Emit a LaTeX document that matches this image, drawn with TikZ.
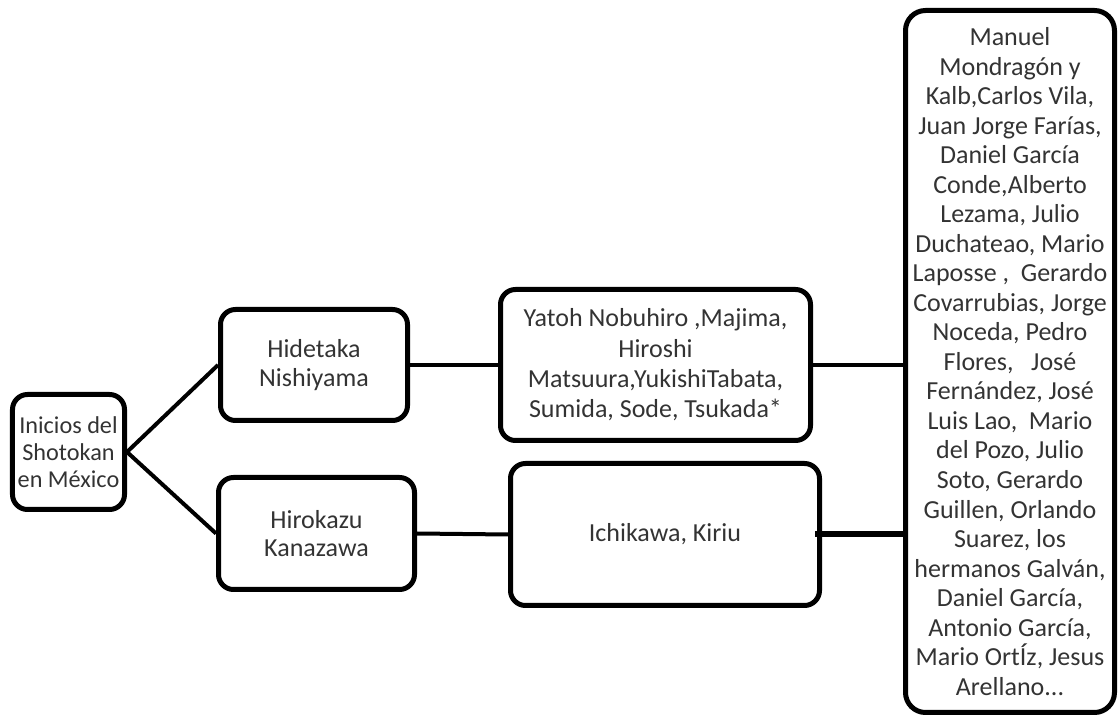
\documentclass[tikz,border=0pt]{standalone}
\usepackage{fontspec}
\setmainfont{Carlito}
\usepackage{tikz}

\begin{document}
\begin{tikzpicture}[
    box/.style={draw, line width=0.1cm, rounded corners=0.3cm, align=center,
      text=black!80, font=\fontsize{14.8}{16.1}\selectfont, inner sep=2pt},
    link/.style={line width=0.08cm}]
  \useasboundingbox (0,0) rectangle (22.36,14.34);
  % left column
  \node[box, minimum width=2.24cm, minimum height=2.30cm,
    font=\fontsize{13.8}{15.3}\selectfont] (root) at (1.37,5.30)
    {Inicios del\\ Shotokan\\ en México};
  \node[box, minimum width=3.74cm, minimum height=2.22cm] (hid) at (6.28,7.04)
    {Hidetaka\\ Nishiyama};
  \node[box, minimum width=3.92cm, minimum height=2.24cm] (hiro) at (6.33,3.67)
    {Hirokazu\\ Kanazawa};
  % middle column
  \node[box, minimum width=6.20cm, minimum height=3.02cm,
    font=\fontsize{14.8}{17.3}\selectfont] (yat) at (13.11,7.04)
    {Yatoh Nobuhiro ,Majima,\\ Hiroshi\\ Matsuura,YukishiTabata,\\ Sumida, Sode, Tsukada*};
  \node[box, minimum width=6.18cm, minimum height=2.84cm] (ich) at (13.30,3.65)
    {Ichikawa, Kiriu};
  % right column
  \node[box, rounded corners=0.4cm, minimum width=4.18cm, minimum height=14.04cm,
    font=\fontsize{14.8}{16.8}\selectfont] (big) at (20.20,7.11)
    {Manuel\\ Mondragón y\\ Kalb,Carlos Vila,\\ Juan Jorge Farías,\\ Daniel García\\
     Conde,Alberto\\ Lezama, Julio\\ Duchateao, Mario\\ Laposse ,~~Gerardo\\
     Covarrubias, Jorge\\ Noceda, Pedro\\ Flores,~~~José\\ Fernández, José\\
     Luis Lao,~~Mario\\ del Pozo, Julio\\ Soto, Gerardo\\ Guillen, Orlando\\
     Suarez, los\\ hermanos Galván,\\ Daniel García,\\ Antonio García,\\
     Mario OrtÍz, Jesus\\ Arellano...};
  % connectors
  \draw[link] (root.east) -- (hid.west);
  \draw[link] (root.east) -- (hiro.west);
  \draw[link] (hid.east) -- (yat.west);
  \draw[link] (hiro.east) -- (ich.west);
  \draw[link] (yat.east) -- (yat.east -| big.west);
  \draw[line width=0.12cm] ([xshift=-0.14cm]ich.east) -- (ich.east -| big.west);
\end{tikzpicture}
\end{document}
